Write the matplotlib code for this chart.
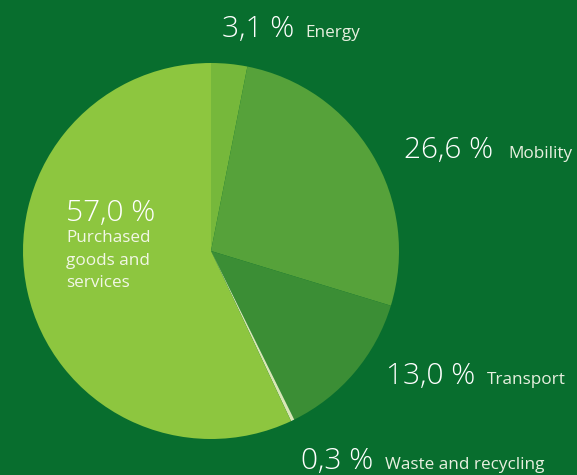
import matplotlib
matplotlib.use("Agg")
import matplotlib.pyplot as plt

# Emission shares by category (percent), clockwise from 12 o'clock
categories = ["Energy", "Mobility", "Transport", "Waste and recycling", "Purchased\ngoods and\nservices"]
shares = [3.1, 26.6, 13.0, 0.3, 57.0]
value_labels = ["3,1 %", "26,6 %", "13,0 %", "0,3 %", "57,0 %"]
colors = ["#76b83b", "#56a23a", "#3b8e35", "#d9e7b5", "#8dc63f"]

BG = "#086e2e"
W, H = 577, 475

fig = plt.figure(figsize=(W / 100, H / 100), dpi=100, facecolor=BG)
ax = fig.add_axes([0, 0, 1, 1])
ax.set_facecolor(BG)

ax.pie(shares, colors=colors, startangle=90, counterclock=False,
       center=(211, H - 251), radius=188, frame=True,
       wedgeprops=dict(linewidth=0))
ax.set_xlim(0, W)
ax.set_ylim(0, H)
ax.set_aspect("equal")
ax.axis("off")

font = "Open Sans"
num_size = 21.5
lab_size = 12.3

# (value x, label x, baseline y) in pixel coordinates from the top-left
placements = [
    (222, 305, 37),
    (404, 508, 158),
    (386, 487, 384),
    (301, 385, 469),
]
for (vx, lx, by), val, cat in zip(placements, value_labels[:4], categories[:4]):
    ax.text(vx, H - by, val, color="white", fontsize=num_size, family=font,
            fontweight="light", ha="left", va="baseline")
    ax.text(lx, H - by, cat, color="#e8f0e0", fontsize=lab_size, family=font,
            ha="left", va="baseline")

ax.text(66, H - 221, value_labels[4], color="white", fontsize=num_size,
        family=font, fontweight="light", ha="left", va="baseline")
ax.text(66, H - 230, categories[4], color="#f2f7e6", fontsize=lab_size,
        family=font, ha="left", va="top", linespacing=1.55)

fig.savefig("out.png", dpi=100, facecolor=BG)
